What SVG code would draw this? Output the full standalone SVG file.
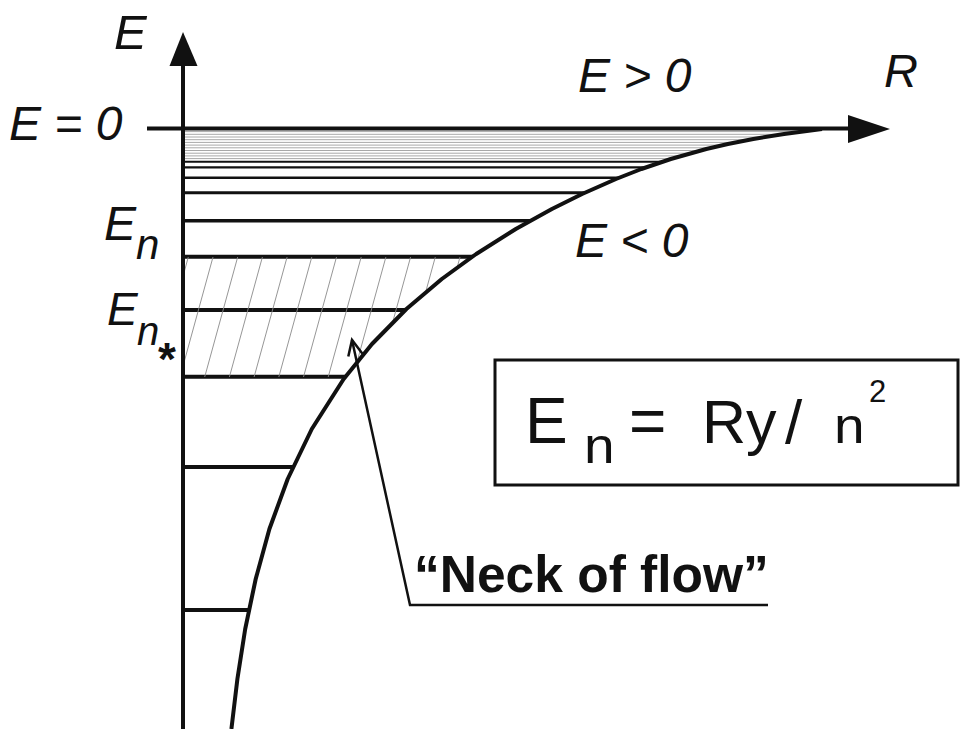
<svg xmlns="http://www.w3.org/2000/svg" width="961" height="729" viewBox="0 0 961 729">
  <style>
    .lbl { font-family: "Liberation Sans", Arial, sans-serif; font-style: italic; fill: #111; }
    .f { font-family: "Liberation Sans", Arial, sans-serif; fill: #111; }
    .axis { stroke: #111; stroke-width: 4; fill: none; }
    .lvl { stroke: #111; fill: none; }
    .gray { stroke: #a8a8a8; stroke-width: 1; }
    .hatch { stroke: #8a8a8a; stroke-width: 0.9; }
  </style>
  <defs>
    <clipPath id="well">
      <path d="M183,110 L830,110 L822,129 L784.1,134 L753.3,139 L727.9,144 L706.3,149 L670.8,159 L641.4,169 L616,179 L582.1,194 L551.9,209 L515.8,229 L476.2,254 L441.8,279 L406.4,309 L372,344 L343.7,379 L311.8,429 L287.7,479 L269.4,529 L255.7,579 L245.2,629 L237.4,679 L231.4,729 L183,729 Z"/>
    </clipPath>
    <clipPath id="band">
      <rect x="185" y="257" width="400" height="120"/>
    </clipPath>
  </defs>

  <g id="levels" clip-path="url(#well)">
    <g class="gray">
      <line x1="183" y1="131.6" x2="830" y2="131.6"/>
      <line x1="183" y1="134.3" x2="830" y2="134.3"/>
      <line x1="183" y1="137" x2="830" y2="137"/>
      <line x1="183" y1="139.7" x2="830" y2="139.7"/>
      <line x1="183" y1="142.4" x2="830" y2="142.4"/>
      <line x1="183" y1="145.1" x2="830" y2="145.1"/>
      <line x1="183" y1="147.8" x2="830" y2="147.8"/>
      <line x1="183" y1="150.5" x2="830" y2="150.5"/>
      <line x1="183" y1="153.2" x2="830" y2="153.2"/>
      <line x1="183" y1="155.9" x2="830" y2="155.9"/>
      <line x1="183" y1="158.6" x2="830" y2="158.6"/>
    </g>
    <line class="lvl" x1="183" y1="161.7" x2="830" y2="161.7" stroke-width="2"/>
    <line class="lvl" x1="183" y1="167.3" x2="830" y2="167.3" stroke-width="2.2"/>
    <line class="lvl" x1="183" y1="177.7" x2="830" y2="177.7" stroke-width="2.6"/>
    <line class="lvl" x1="183" y1="192.7" x2="830" y2="192.7" stroke-width="3"/>
    <line class="lvl" x1="183" y1="220.7" x2="830" y2="220.7" stroke-width="3.6"/>
    <line class="lvl" x1="183" y1="256.7" x2="830" y2="256.7" stroke-width="4"/>
    <line class="lvl" x1="183" y1="310" x2="830" y2="310" stroke-width="4"/>
    <line class="lvl" x1="183" y1="376.7" x2="830" y2="376.7" stroke-width="4"/>
    <line class="lvl" x1="183" y1="467" x2="830" y2="467" stroke-width="4"/>
    <line class="lvl" x1="183" y1="610" x2="830" y2="610" stroke-width="4"/>
    <g class="hatch" clip-path="url(#band)">
      <line x1="188.3" y1="257" x2="155.3" y2="377"/>
      <line x1="213" y1="257" x2="180" y2="377"/>
      <line x1="237.7" y1="257" x2="204.7" y2="377"/>
      <line x1="262.4" y1="257" x2="229.4" y2="377"/>
      <line x1="287.1" y1="257" x2="254.1" y2="377"/>
      <line x1="311.8" y1="257" x2="278.8" y2="377"/>
      <line x1="336.5" y1="257" x2="303.5" y2="377"/>
      <line x1="361.2" y1="257" x2="328.2" y2="377"/>
      <line x1="385.9" y1="257" x2="352.9" y2="377"/>
      <line x1="410.6" y1="257" x2="377.6" y2="377"/>
      <line x1="435.3" y1="257" x2="402.3" y2="377"/>
      <line x1="460" y1="257" x2="427" y2="377"/>
      <line x1="484.7" y1="257" x2="451.7" y2="377"/>
    </g>
  </g>

  <g id="curve">
    <polyline points="822,129 784.1,134 753.3,139 727.9,144 706.3,149 670.8,159 641.4,169 616,179 582.1,194 551.9,209 515.8,229 476.2,254 441.8,279 406.4,309 372,344 343.7,379 311.8,429 287.7,479 269.4,529 255.7,579 245.2,629 237.4,679 231.4,729" fill="none" stroke="#111" stroke-width="4" stroke-linejoin="round"/>
  </g>

  <g id="axes">
    <line class="axis" x1="183" y1="729" x2="183" y2="60"/>
    <polygon points="183,32 169.5,66 197.5,66" fill="#111"/>
    <line class="axis" x1="147" y1="128.5" x2="852" y2="128.5"/>
    <polygon points="890,129 848,115 848,143" fill="#111"/>
  </g>

  <g id="labels">
    <text class="lbl" x="114" y="49" font-size="49">E</text>
    <text class="lbl" x="9" y="140" font-size="48">E = 0</text>
    <text class="lbl" x="578" y="92" font-size="48">E &gt; 0</text>
    <text class="lbl" x="884" y="87" font-size="47">R</text>
    <text class="lbl" x="575" y="257" font-size="48">E &lt; 0</text>
    <text class="lbl" x="104" y="240" font-size="48">E</text>
    <text class="lbl" x="136" y="259" font-size="42">n</text>
    <text class="lbl" x="107" y="325" font-size="46">E</text>
    <text class="lbl" x="137" y="345" font-size="40">n</text>
    <text class="f" x="158" y="375" font-size="46" font-weight="bold">*</text>
  </g>

  <g id="formula">
    <rect x="495" y="360" width="463" height="125" fill="none" stroke="#111" stroke-width="3"/>
    <text class="f" x="525" y="443" font-size="64">E</text>
    <text class="f" transform="translate(584,463) scale(1.1,1)" font-size="50">n</text>
    <text class="f" x="629" y="443" font-size="64">=</text>
    <text class="f" x="702" y="443" font-size="61">Ry</text>
    <text class="f" x="785" y="443" font-size="62">/</text>
    <text class="f" transform="translate(834,443) scale(1.1,1)" font-size="50">n</text>
    <text class="f" x="869" y="402" font-size="31">2</text>
  </g>

  <g id="neck">
    <polyline points="768,605 410,605 352,340" fill="none" stroke="#111" stroke-width="2.5"/>
    <polyline points="348.3,356.6 352,340 362.3,353.5" fill="none" stroke="#111" stroke-width="2.5"/>
    <text class="f" x="414" y="592" font-size="51.5" font-weight="bold">“Neck of flow”</text>
  </g>
</svg>
